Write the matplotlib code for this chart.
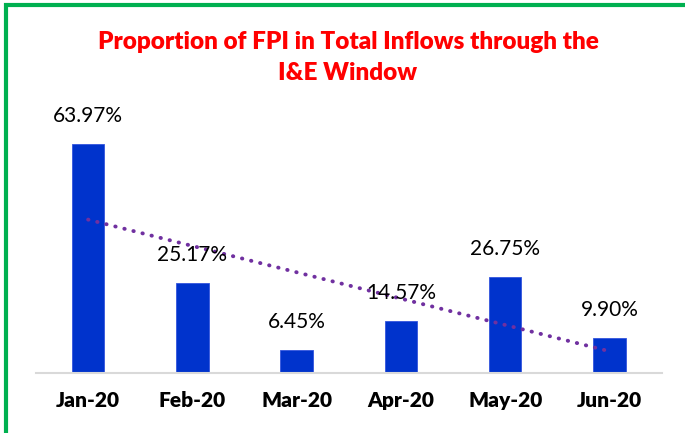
import numpy as np
import matplotlib
matplotlib.use("Agg")
import matplotlib.pyplot as plt
from matplotlib.patches import Rectangle

months = ["Jan-20", "Feb-20", "Mar-20", "Apr-20", "May-20", "Jun-20"]
fpi_share = [63.97, 25.17, 6.45, 14.57, 26.75, 9.90]

plt.rcParams['font.family'] = ['Lato', 'DejaVu Sans']

W, H = 685, 433
fig = plt.figure(figsize=(W/100, H/100), dpi=100)
ax = fig.add_axes([36/W, 1 - 373/H, (661.5 - 36)/W, (373 - 101)/H])

x = np.arange(len(months))
ax.bar(x, fpi_share, width=0.31, color='#0033CC', edgecolor='#3355DD', linewidth=0.6, zorder=2)

for xi, v in zip(x, fpi_share):
    ax.annotate(f"{v:.2f}%", (xi, v), xytext=(0, 13), textcoords='offset points',
                ha='center', va='bottom', fontsize=15, color='black', zorder=4)

# linear trend line
slope, icpt = np.polyfit(x, fpi_share, 1)
ax.plot(x, icpt + slope * x, color='#7030A0', linestyle=(0, (0.1, 2.3)),
        linewidth=2.8, dash_capstyle='round', zorder=3)

ax.set_xlim(-0.5, 5.5)
ax.set_ylim(0, 76)
ax.set_yticks([])
ax.set_xticks(x)
ax.set_xticklabels(months, fontsize=15, fontweight='heavy')
ax.tick_params(axis='x', length=0, pad=13)
for s in ['top', 'right', 'left']:
    ax.spines[s].set_visible(False)
ax.spines['bottom'].set_color('#D9D9D9')
ax.spines['bottom'].set_linewidth(1.5)

fig.text(348/W, 1 - 42/H, "Proportion of FPI in Total Inflows through the",
         ha='center', va='center', fontsize=17.5, fontweight='heavy', color='#FF0000')
fig.text(348/W, 1 - 73/H, "I&E Window",
         ha='center', va='center', fontsize=17.5, fontweight='heavy', color='#FF0000')

# green outer frame
fig.patches.append(Rectangle((6/W, -0.1), 2, 1.1 - 4.5/H, transform=fig.transFigure,
                             fill=False, edgecolor='#00B050', linewidth=3))

fig.savefig("out.png", dpi=100)
